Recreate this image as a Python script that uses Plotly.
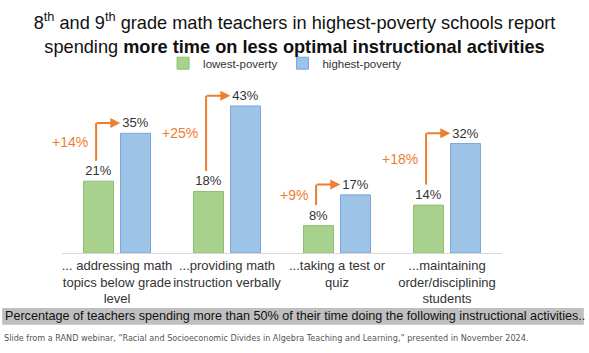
import plotly.graph_objects as go

categories = ["... addressing math<br>topics below grade<br>level",
              "...providing math<br>instruction verbally",
              "...taking a test or<br>quiz",
              "...maintaining<br>order/disciplining<br>students"]
lowest = [21, 18, 8, 14]
highest = [35, 43, 17, 32]
diff_labels = ["+14%", "+25%", "+9%", "+18%"]

GREEN = "#A9D18E"
GREEN_LINE = "#8DC06F"
BLUE = "#9DC3E6"
BLUE_LINE = "#7BA7DA"
ORANGE = "#ED7D31"

xs = list(range(len(categories)))

fig = go.Figure()
fig.add_trace(go.Bar(x=xs, y=lowest, name="lowest-poverty",
                     marker=dict(color=GREEN, line=dict(color=GREEN_LINE, width=1)),
                     text=[f"{v}%" for v in lowest], textposition="outside",
                     textfont=dict(size=13, color="#333333"), cliponaxis=False))
fig.add_trace(go.Bar(x=xs, y=highest, name="highest-poverty",
                     marker=dict(color=BLUE, line=dict(color=BLUE_LINE, width=1)),
                     text=[f"{v}%" for v in highest], textposition="outside",
                     textfont=dict(size=13, color="#333333"), cliponaxis=False))

shapes = []
annotations = []
for i, (lo, hi, lab) in enumerate(zip(lowest, highest, diff_labels)):
    xv = i - 0.19
    y0 = lo + 6
    y1 = hi + 3
    shapes.append(dict(type="line", xref="x", yref="y", x0=xv, x1=xv, y0=y0, y1=y1,
                       line=dict(color=ORANGE, width=2)))
    annotations.append(dict(xref="x", yref="y", axref="x", ayref="y",
                            x=i + 0.03, y=y1, ax=xv - 0.008, ay=y1, text="",
                            showarrow=True, arrowhead=2, arrowsize=1, arrowwidth=2,
                            arrowcolor=ORANGE))
    annotations.append(dict(xref="x", yref="y", x=xv - 0.06, y=(y0 + y1) / 2,
                            text=lab, showarrow=False, xanchor="right", yanchor="middle",
                            font=dict(size=14, color=ORANGE)))

# gray banner
shapes.append(dict(type="rect", xref="paper", yref="paper", x0=-0.136, x1=1.186,
                   y0=-0.42, y1=-0.321, fillcolor="#BFBFBF", line=dict(width=0),
                   layer="below"))
annotations.append(dict(xref="paper", yref="paper", x=-0.134, y=-0.37,
                        text="Percentage of teachers spending more than 50% of their time doing the following instructional activities..",
                        showarrow=False, xanchor="left", yanchor="middle",
                        font=dict(size=12.6, color="#111111", family="Liberation Sans")))
annotations.append(dict(xref="paper", yref="paper", x=-0.136, y=-0.497,
                        text="Slide from a RAND webinar, \u201cRacial and Socioeconomic Divides in Algebra Teaching and Learning,\u201d presented in November 2024.",
                        showarrow=False, xanchor="left", yanchor="middle",
                        font=dict(size=8.1, color="#555555", family="DejaVu Sans")))

fig.update_layout(
    width=589, height=353,
    margin=dict(l=62, r=87, t=81.5, b=100),
    paper_bgcolor="white", plot_bgcolor="white",
    barmode="group", bargap=0.327, bargroupgap=0.19,
    font=dict(family="Liberation Sans", color="#333333"),
    title=dict(text="8<sup>th</sup> and 9<sup>th</sup> grade math teachers in highest-poverty schools report<br>spending <b>more time on less optimal instructional activities</b>",
               x=0.5, xref="container", xanchor="center", y=1 - 29 / 353, yanchor="middle",
               font=dict(size=18.2, color="#111111")),
    legend=dict(orientation="h", x=0.507, xanchor="center", y=1.11, yanchor="middle",
                font=dict(size=11.5, color="#333333"), bgcolor="rgba(0,0,0,0)",
                itemwidth=30),
    xaxis=dict(tickmode="array", tickvals=xs, ticktext=categories, range=[-0.5, 3.5],
               showline=True, linecolor="#D9D9D9", linewidth=1, ticks="", tickangle=0,
               tickfont=dict(size=13, color="#333333"), showgrid=False, zeroline=False),
    yaxis=dict(range=[0, 50], visible=False, showgrid=False, zeroline=False),
    shapes=shapes, annotations=annotations,
)

fig.write_html("out.html")
